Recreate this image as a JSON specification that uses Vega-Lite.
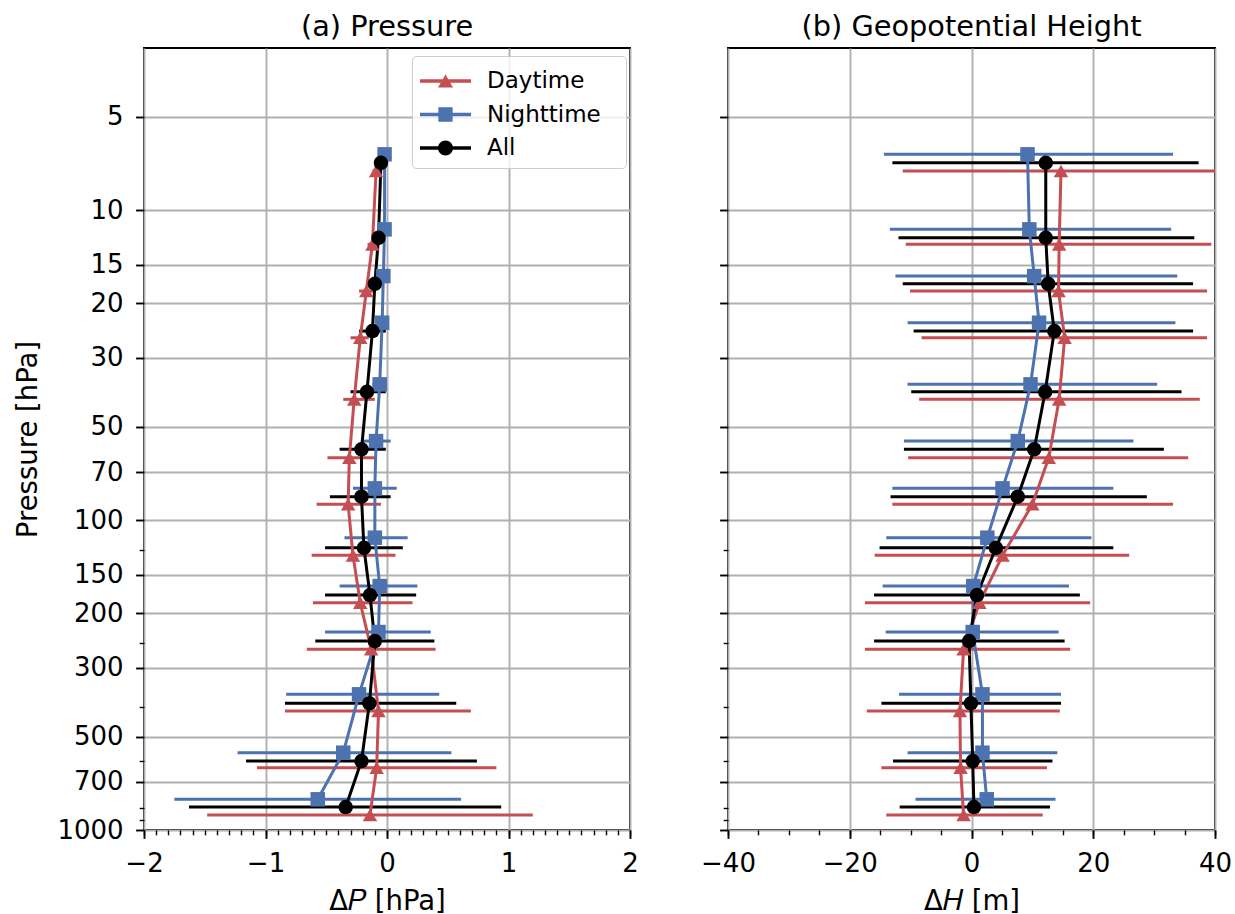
{
  "$schema": "https://vega.github.io/schema/vega-lite/v6.json",
  "background": "white",
  "padding": {"left": 13, "top": 12, "right": 5, "bottom": 0},
  "spacing": 98,
  "bounds": "flush",
  "config": {
    "font": "DejaVu Sans",
    "view": {"stroke": "black", "strokeWidth": 1.9},
    "axis": {
      "domain": false, "tickColor": "black", "tickWidth": 1.9, "tickSize": 8.4, "labelPadding": 12.5,
      "labelFontSize": 26, "labelColor": "black", "labelFont": "DejaVu Sans",
      "titleFontSize": 27.5, "titleFont": "DejaVu Sans", "titleFontWeight": "normal", "titleColor": "black",
      "gridColor": "#b0b0b0", "gridWidth": 1.9, "gridOpacity": 1, "labelFlush": false, "labelOverlap": false
    },
    "title": {"fontSize": 28.8, "fontWeight": "normal", "font": "DejaVu Sans", "color": "black", "offset": 6, "baseline": "alphabetic", "anchor": "middle", "frame": "group"}
  },
  "datasets": {
    "pres": [
      {"s":"Daytime","p":7.48,"v":-0.09,"lo":-0.12,"hi":-0.06},
      {"s":"Daytime","p":12.9,"v":-0.12,"lo":-0.16,"hi":-0.08},
      {"s":"Daytime","p":18.25,"v":-0.17,"lo":-0.23,"hi":-0.11},
      {"s":"Daytime","p":25.82,"v":-0.22,"lo":-0.3,"hi":-0.15},
      {"s":"Daytime","p":40.8,"v":-0.27,"lo":-0.36,"hi":-0.1},
      {"s":"Daytime","p":62.95,"v":-0.31,"lo":-0.49,"hi":-0.1},
      {"s":"Daytime","p":88.99,"v":-0.32,"lo":-0.58,"hi":-0.05},
      {"s":"Daytime","p":130.0,"v":-0.28,"lo":-0.62,"hi":0.07},
      {"s":"Daytime","p":184.9,"v":-0.22,"lo":-0.61,"hi":0.21},
      {"s":"Daytime","p":261.3,"v":-0.13,"lo":-0.66,"hi":0.4},
      {"s":"Daytime","p":413.2,"v":-0.07,"lo":-0.84,"hi":0.69},
      {"s":"Daytime","p":629.5,"v":-0.085,"lo":-1.07,"hi":0.9},
      {"s":"Daytime","p":894.5,"v":-0.14,"lo":-1.48,"hi":1.2},
      {"s":"Nighttime","p":6.61,"v":-0.02,"lo":-0.04,"hi":0.0},
      {"s":"Nighttime","p":11.54,"v":-0.02,"lo":-0.04,"hi":0.0},
      {"s":"Nighttime","p":16.33,"v":-0.03,"lo":-0.06,"hi":0.0},
      {"s":"Nighttime","p":23.09,"v":-0.04,"lo":-0.09,"hi":0.01},
      {"s":"Nighttime","p":36.5,"v":-0.06,"lo":-0.12,"hi":0.0},
      {"s":"Nighttime","p":55.62,"v":-0.09,"lo":-0.21,"hi":0.03},
      {"s":"Nighttime","p":79.03,"v":-0.1,"lo":-0.28,"hi":0.08},
      {"s":"Nighttime","p":114.0,"v":-0.1,"lo":-0.35,"hi":0.17},
      {"s":"Nighttime","p":163.3,"v":-0.06,"lo":-0.39,"hi":0.25},
      {"s":"Nighttime","p":229.8,"v":-0.07,"lo":-0.51,"hi":0.36},
      {"s":"Nighttime","p":365.0,"v":-0.23,"lo":-0.83,"hi":0.43},
      {"s":"Nighttime","p":563.1,"v":-0.36,"lo":-1.23,"hi":0.53},
      {"s":"Nighttime","p":796.1,"v":-0.57,"lo":-1.75,"hi":0.61},
      {"s":"All","p":7.04,"v":-0.05,"lo":-0.07,"hi":-0.03},
      {"s":"All","p":12.29,"v":-0.07,"lo":-0.1,"hi":-0.04},
      {"s":"All","p":17.29,"v":-0.1,"lo":-0.15,"hi":-0.05},
      {"s":"All","p":24.57,"v":-0.12,"lo":-0.23,"hi":-0.01},
      {"s":"All","p":38.57,"v":-0.165,"lo":-0.3,"hi":-0.01},
      {"s":"All","p":59.14,"v":-0.21,"lo":-0.39,"hi":-0.01},
      {"s":"All","p":84.1,"v":-0.21,"lo":-0.47,"hi":0.03},
      {"s":"All","p":122.9,"v":-0.19,"lo":-0.51,"hi":0.13},
      {"s":"All","p":174.6,"v":-0.14,"lo":-0.51,"hi":0.24},
      {"s":"All","p":245.7,"v":-0.1,"lo":-0.59,"hi":0.39},
      {"s":"All","p":390.3,"v":-0.145,"lo":-0.84,"hi":0.57},
      {"s":"All","p":599.0,"v":-0.21,"lo":-1.16,"hi":0.74},
      {"s":"All","p":843.0,"v":-0.34,"lo":-1.63,"hi":0.94}
    ],
    "geo": [
      {"s":"Daytime","p":7.48,"v":14.7,"lo":-11.3,"hi":41.0},
      {"s":"Daytime","p":12.9,"v":14.4,"lo":-10.8,"hi":39.4},
      {"s":"Daytime","p":18.25,"v":14.3,"lo":-10.1,"hi":38.7},
      {"s":"Daytime","p":25.82,"v":15.3,"lo":-8.2,"hi":38.7},
      {"s":"Daytime","p":40.8,"v":14.4,"lo":-8.6,"hi":37.5},
      {"s":"Daytime","p":62.95,"v":12.7,"lo":-10.4,"hi":35.6},
      {"s":"Daytime","p":88.99,"v":10.0,"lo":-13.0,"hi":33.1},
      {"s":"Daytime","p":130.0,"v":5.1,"lo":-15.9,"hi":25.9},
      {"s":"Daytime","p":184.9,"v":1.3,"lo":-17.5,"hi":19.5},
      {"s":"Daytime","p":261.3,"v":-1.3,"lo":-17.5,"hi":16.2},
      {"s":"Daytime","p":413.2,"v":-1.9,"lo":-17.2,"hi":14.5},
      {"s":"Daytime","p":629.5,"v":-1.8,"lo":-14.8,"hi":12.4},
      {"s":"Daytime","p":894.5,"v":-1.3,"lo":-14.0,"hi":11.7},
      {"s":"Nighttime","p":6.61,"v":9.2,"lo":-14.4,"hi":33.1},
      {"s":"Nighttime","p":11.54,"v":9.5,"lo":-13.4,"hi":32.8},
      {"s":"Nighttime","p":16.33,"v":10.3,"lo":-12.5,"hi":33.8},
      {"s":"Nighttime","p":23.09,"v":11.1,"lo":-10.5,"hi":33.5},
      {"s":"Nighttime","p":36.5,"v":9.7,"lo":-10.5,"hi":30.5},
      {"s":"Nighttime","p":55.62,"v":7.6,"lo":-11.1,"hi":26.6},
      {"s":"Nighttime","p":79.03,"v":5.1,"lo":-13.0,"hi":23.3},
      {"s":"Nighttime","p":114.0,"v":2.6,"lo":-14.0,"hi":19.7},
      {"s":"Nighttime","p":163.3,"v":0.3,"lo":-14.6,"hi":16.0},
      {"s":"Nighttime","p":229.8,"v":0.2,"lo":-14.1,"hi":14.3},
      {"s":"Nighttime","p":365.0,"v":1.8,"lo":-11.9,"hi":14.7},
      {"s":"Nighttime","p":563.1,"v":1.8,"lo":-10.5,"hi":14.1},
      {"s":"Nighttime","p":796.1,"v":2.5,"lo":-9.2,"hi":13.8},
      {"s":"All","p":7.04,"v":12.2,"lo":-13.0,"hi":37.3},
      {"s":"All","p":12.29,"v":12.2,"lo":-12.0,"hi":36.6},
      {"s":"All","p":17.29,"v":12.6,"lo":-11.3,"hi":36.4},
      {"s":"All","p":24.57,"v":13.6,"lo":-9.5,"hi":36.4},
      {"s":"All","p":38.57,"v":12.1,"lo":-9.9,"hi":34.5},
      {"s":"All","p":59.14,"v":10.3,"lo":-11.1,"hi":31.6},
      {"s":"All","p":84.1,"v":7.6,"lo":-13.3,"hi":28.8},
      {"s":"All","p":122.9,"v":4.0,"lo":-15.1,"hi":23.3},
      {"s":"All","p":174.6,"v":0.9,"lo":-16.0,"hi":17.8},
      {"s":"All","p":245.7,"v":-0.4,"lo":-16.0,"hi":15.3},
      {"s":"All","p":390.3,"v":-0.1,"lo":-14.8,"hi":14.7},
      {"s":"All","p":599.0,"v":0.2,"lo":-12.9,"hi":13.3},
      {"s":"All","p":843.0,"v":0.4,"lo":-11.8,"hi":12.9}
    ]
  },
  "hconcat": [
    {
      "title": {"text": "(a) Pressure"},
      "width": 486,
      "height": 782,
      "data": {"name": "pres"},
      "resolve": {"axis": {"x": "independent", "y": "independent"}, "scale": {"color": "independent", "shape": "independent"}},
      "layer": [
        {
          "mark": {"type": "rule", "strokeWidth": 3, "clip": true},
          "encoding": {
            "x": {"field": "lo", "type": "quantitative", "scale": {"domain": [-2, 2], "nice": false, "zero": false},
                  "axis": {"orient": "bottom", "values": [-2, -1, 0, 1, 2], "format": "d", "title": "Δ𝑃 [hPa]", "grid": true, "titlePadding": 10.5}},
            "x2": {"field": "hi"},
            "y": {"field": "p", "type": "quantitative", "scale": {"type": "log", "domain": [3, 1000], "reverse": true, "nice": false},
                  "axis": {"orient": "left", "values": [5, 10, 15, 20, 30, 50, 70, 100, 150, 200, 300, 500, 700, 1000], "format": "d", "title": "Pressure [hPa]", "grid": true, "titlePadding": 14.5}},
            "color": {"field": "s", "type": "nominal", "scale": {"domain": ["Daytime", "Nighttime", "All"], "range": ["#C44E52", "#4C72B0", "#000000"]}, "legend": null}
          }
        },
        {
          "mark": {"type": "line", "strokeWidth": 3, "clip": true},
          "encoding": {
            "x": {"field": "v", "type": "quantitative", "scale": {"domain": [-2, 2], "nice": false, "zero": false},
                  "axis": {"orient": "bottom", "values": [-2,-1.9,-1.8,-1.7,-1.6,-1.5,-1.4,-1.3,-1.2,-1.1,-1,-0.9,-0.8,-0.7,-0.6,-0.5,-0.4,-0.3,-0.2,-0.1,0,0.1,0.2,0.3,0.4,0.5,0.6,0.7,0.8,0.9,1,1.1,1.2,1.3,1.4,1.5,1.6,1.7,1.8,1.9,2], "labels": false, "title": null, "grid": false, "tickSize": 4.8, "tickWidth": 1.4}},
            "y": {"field": "p", "type": "quantitative", "scale": {"type": "log", "domain": [3, 1000], "reverse": true, "nice": false},
                  "axis": {"orient": "left", "values": [125, 250, 400, 600, 850, 925], "labels": false, "title": null, "grid": false, "tickSize": 4.8, "tickWidth": 1.4}},
            "color": {"field": "s", "type": "nominal", "scale": {"domain": ["Daytime", "Nighttime", "All"], "range": ["#C44E52", "#4C72B0", "#000000"]}, "legend": null},
            "order": {"field": "p", "type": "quantitative"}
          }
        },
        {
          "mark": {"type": "point", "filled": true, "opacity": 1, "size": 210, "clip": true},
          "encoding": {
            "x": {"field": "v", "type": "quantitative", "scale": {"domain": [-2, 2], "nice": false, "zero": false}, "axis": null},
            "y": {"field": "p", "type": "quantitative", "scale": {"type": "log", "domain": [3, 1000], "reverse": true, "nice": false}, "axis": null},
            "color": {"field": "s", "type": "nominal", "scale": {"domain": ["Daytime", "Nighttime", "All"], "range": ["#C44E52", "#4C72B0", "#000000"]}, "legend": null},
            "shape": {"field": "s", "type": "nominal", "scale": {"domain": ["Daytime", "Nighttime", "All"], "range": ["triangle-up", "square", "circle"]}, "legend": null}
          }
        },
        {
          "transform": [{"filter": "false"}],
          "mark": {"type": "point", "filled": true, "opacity": 1},
          "encoding": {
            "x": {"field": "v", "type": "quantitative", "scale": {"domain": [-2, 2], "nice": false, "zero": false}, "axis": null},
            "y": {"field": "p", "type": "quantitative", "scale": {"type": "log", "domain": [3, 1000], "reverse": true, "nice": false}, "axis": null},
            "color": {"field": "s", "type": "nominal", "scale": {"domain": ["Daytime", "Nighttime", "All"], "range": ["#C44E52", "#4C72B0", "#000000"]},
                      "legend": {"title": null, "orient": "none", "legendX": 268, "legendY": 8, "symbolSize": 1156, "symbolStrokeWidth": 0, "symbolOpacity": 1, "labelFontSize": 23, "labelFont": "DejaVu Sans", "labelColor": "black", "labelOffset": 33, "rowPadding": 4.5, "padding": 8, "fillColor": "rgba(255,255,255,0.8)", "strokeColor": "#cccccc", "cornerRadius": 4, "labelExpr": "datum.label + '\u2800'"}},
            "shape": {"field": "s", "type": "nominal", "scale": {"domain": ["Daytime", "Nighttime", "All"], "range": [
                        "M-1.0,-0.106H2.0V0.106H-1.0Z M0.5,-0.38L0.941,0.38L0.059,0.38Z",
                        "M-1.0,-0.106H2.0V0.106H-1.0Z M0.08,-0.42H0.92V0.42H0.08Z",
                        "M-1.0,-0.106H2.0V0.106H-1.0Z M0.94,0A0.44,0.44 0 1,1 0.06,0A0.44,0.44 0 1,1 0.94,0Z"]},
                      "legend": {"title": null, "orient": "none", "legendX": 268, "legendY": 8, "symbolSize": 1156, "symbolStrokeWidth": 0, "symbolOpacity": 1, "labelFontSize": 23, "labelFont": "DejaVu Sans", "labelColor": "black", "labelOffset": 33, "rowPadding": 4.5, "padding": 8, "fillColor": "rgba(255,255,255,0.8)", "strokeColor": "#cccccc", "cornerRadius": 4, "labelExpr": "datum.label + '\u2800'"}}
          }
        }
      ]
    },
    {
      "title": {"text": "(b) Geopotential Height"},
      "width": 487,
      "height": 782,
      "data": {"name": "geo"},
      "resolve": {"axis": {"x": "independent", "y": "independent"}, "scale": {"color": "independent", "shape": "independent"}},
      "layer": [
        {
          "mark": {"type": "rule", "strokeWidth": 3, "clip": true},
          "encoding": {
            "x": {"field": "lo", "type": "quantitative", "scale": {"domain": [-40, 40], "nice": false, "zero": false},
                  "axis": {"orient": "bottom", "values": [-40, -20, 0, 20, 40], "format": "d", "title": "Δ𝐻 [m]", "grid": true, "titlePadding": 10.5}},
            "x2": {"field": "hi"},
            "y": {"field": "p", "type": "quantitative", "scale": {"type": "log", "domain": [3, 1000], "reverse": true, "nice": false},
                  "axis": {"orient": "left", "values": [5, 10, 15, 20, 30, 50, 70, 100, 150, 200, 300, 500, 700, 1000], "labels": false, "title": null, "grid": true}},
            "color": {"field": "s", "type": "nominal", "scale": {"domain": ["Daytime", "Nighttime", "All"], "range": ["#C44E52", "#4C72B0", "#000000"]}, "legend": null}
          }
        },
        {
          "mark": {"type": "line", "strokeWidth": 3, "clip": true},
          "encoding": {
            "x": {"field": "v", "type": "quantitative", "scale": {"domain": [-40, 40], "nice": false, "zero": false},
                  "axis": {"orient": "bottom", "values": [-40,-35,-30,-25,-20,-15,-10,-5,0,5,10,15,20,25,30,35,40], "labels": false, "title": null, "grid": false, "tickSize": 4.8, "tickWidth": 1.4}},
            "y": {"field": "p", "type": "quantitative", "scale": {"type": "log", "domain": [3, 1000], "reverse": true, "nice": false},
                  "axis": {"orient": "left", "values": [125, 250, 400, 600, 850, 925], "labels": false, "title": null, "grid": false, "tickSize": 4.8, "tickWidth": 1.4}},
            "color": {"field": "s", "type": "nominal", "scale": {"domain": ["Daytime", "Nighttime", "All"], "range": ["#C44E52", "#4C72B0", "#000000"]}, "legend": null},
            "order": {"field": "p", "type": "quantitative"}
          }
        },
        {
          "mark": {"type": "point", "filled": true, "opacity": 1, "size": 210, "clip": true},
          "encoding": {
            "x": {"field": "v", "type": "quantitative", "scale": {"domain": [-40, 40], "nice": false, "zero": false}, "axis": null},
            "y": {"field": "p", "type": "quantitative", "scale": {"type": "log", "domain": [3, 1000], "reverse": true, "nice": false}, "axis": null},
            "color": {"field": "s", "type": "nominal", "scale": {"domain": ["Daytime", "Nighttime", "All"], "range": ["#C44E52", "#4C72B0", "#000000"]}, "legend": null},
            "shape": {"field": "s", "type": "nominal", "scale": {"domain": ["Daytime", "Nighttime", "All"], "range": ["triangle-up", "square", "circle"]}, "legend": null}
          }
        }
      ]
    }
  ]
}
